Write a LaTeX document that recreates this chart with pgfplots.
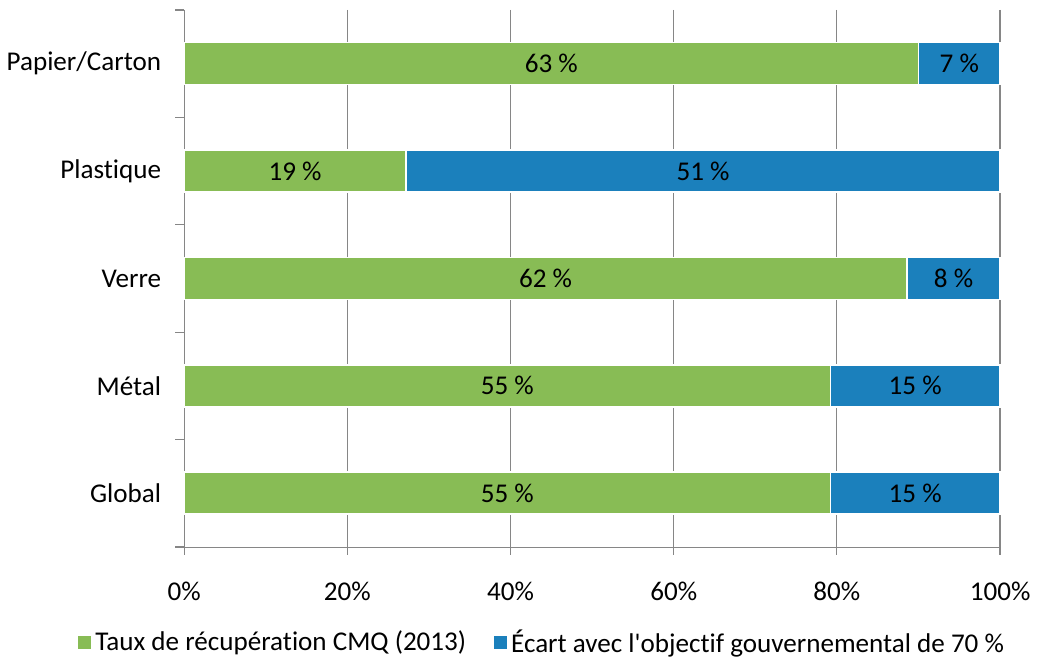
\documentclass[border=0pt]{standalone}
\usepackage{fontspec}
\setmainfont{Carlito}[Ligatures={TeXOff,CommonOff}]
\usepackage{pgfplots}
\pgfplotsset{compat=1.18}
\definecolor{vert}{HTML}{88BC55}
\definecolor{bleu}{HTML}{1B80BC}
\definecolor{grille}{HTML}{868686}
\begin{document}
\begin{tikzpicture}[font=\fontsize{13.6}{16}\selectfont]
\begin{axis}[
  name=ax,
  scale only axis,
  width=408bp, height=268.5bp,
  xmin=0, xmax=100,
  ymin=-0.5, ymax=4.5,
  y dir=reverse,
  axis lines*=left,
  axis line style={grille},
  /pgf/number format/assume math mode=true,
  xtick={0,20,40,60,80,100},
  xticklabels={0\%,20\%,40\%,60\%,80\%,100\%},
  xmajorgrids,
  grid style={grille, line width=0.6pt},
  x tick style={grille, line width=0.6pt},
  major tick length=4bp,
  tick align=outside,
  xticklabel style={yshift=-10bp},
  ytick={0,1,2,3,4},
  yticklabels={Papier/Carton,Plastique,Verre,Métal,Global},
  y tick style={draw=none},
  yticklabel style={xshift=-4bp},
  extra y ticks={-0.5,0.5,1.5,2.5,3.5,4.5},
  extra y tick labels={},
  extra y tick style={grid=none, y tick style={draw=grille, line width=0.6pt}, major tick length=4.5bp},
  legend columns=2,
  legend style={draw=none, fill=none, at={(rel axis cs:0.44,-0.178)}, anchor=center,
    /tikz/every even column/.append style={column sep=12bp}},
  legend image code/.code={\fill[#1] (0bp,-3.2bp) rectangle (6.5bp,3.2bp);},
  clip=false,
]
% blue (full bar, gap to 70 % objective)
\addplot[xbar, bar width=21bp, bar shift=0pt, fill=bleu, draw=white, line width=0.8pt, forget plot]
  coordinates {(100,0) (100,1) (100,2) (100,3) (100,4)};
% green (recovery rate as share of the 70 % objective)
\addplot[xbar, bar width=21bp, bar shift=0pt, fill=vert, draw=white, line width=0.8pt, forget plot]
  coordinates {(90.0,0) (27.2,1) (88.6,2) (79.2,3) (79.2,4)};
% labels
\addplot[only marks, mark=none, point meta=explicit,
  nodes near coords={\pgfmathprintnumber{\pgfplotspointmeta}~\%},
  every node near coord/.append style={anchor=center, black, font=\fontsize{13.6}{16}\selectfont},
  forget plot]
  table[meta=v] {
x y v
45.0 0 63
95.0 0 7
13.6 1 19
63.6 1 51
44.3 2 62
94.3 2 8
39.6 3 55
89.6 3 15
39.6 4 55
89.6 4 15
};
\addlegendimage{fill=vert, draw=none}
\addlegendentry{Taux de récupération CMQ (2013)}
\addlegendimage{fill=bleu, draw=none}
\addlegendentry{Écart avec l'objectif gouvernemental de 70 \%}
\end{axis}
\path (ax.north west) ++(0,5bp) coordinate (topspace);
\draw[draw=none] (topspace) -- ++(1bp,0);
\end{tikzpicture}
\end{document}
